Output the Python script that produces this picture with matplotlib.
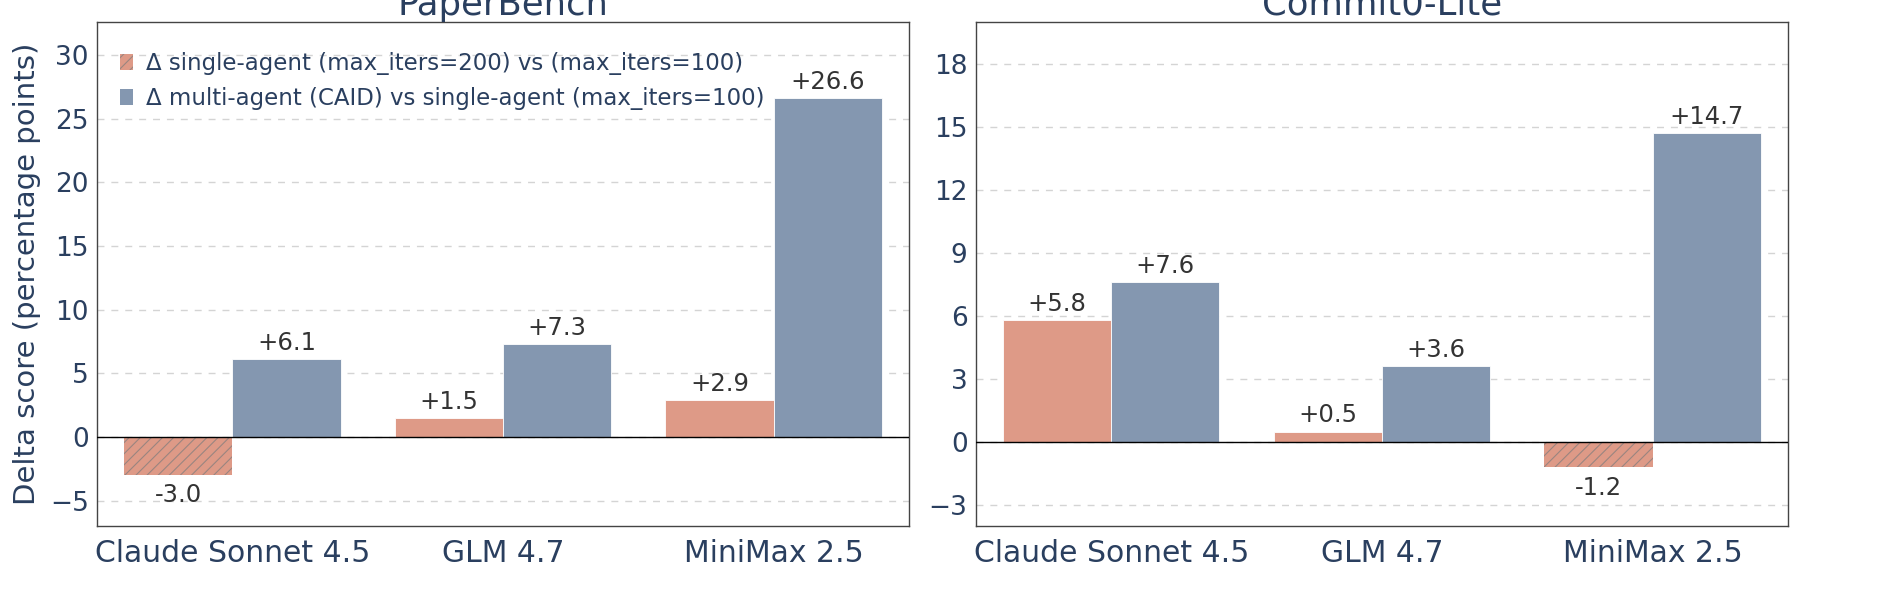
import numpy as np
import matplotlib
matplotlib.use('Agg')
import matplotlib.pyplot as plt
from matplotlib.patches import Patch

models = ['Claude Sonnet 4.5', 'GLM 4.7', 'MiniMax 2.5']

paper_single = [-3.0, 1.5, 2.9]
paper_multi = [6.1, 7.3, 26.6]

commit_single = [5.8, 0.5, -1.2]
commit_multi = [7.6, 3.6, 14.7]

label_single = 'Δ single-agent (max_iters=200) vs (max_iters=100)'
label_multi = 'Δ multi-agent (CAID) vs single-agent (max_iters=100)'

SALMON = '#DE9A87'
BLUE = '#8497B0'
NAVY = '#2A3F5F'
HATCH_GRAY = '#9a8580'

plt.rcParams['font.family'] = 'DejaVu Sans'
plt.rcParams['hatch.linewidth'] = 0.8

fig = plt.figure(figsize=(18.8, 6.04), dpi=100)
ax1 = fig.add_axes([0.0516, 0.1291, 0.4319, 0.8345])
ax2 = fig.add_axes([0.5191, 0.1291, 0.4319, 0.8345])


def draw_panel(ax, single, multi, title, ylim, yticks, show_legend):
    x = np.arange(len(models))
    w = 0.4
    for i in range(len(models)):
        v = single[i]
        if v < 0:
            ax.bar(x[i] - w / 2, v, w, color=SALMON, edgecolor=HATCH_GRAY,
                   linewidth=0, hatch='///', zorder=3)
        else:
            ax.bar(x[i] - w / 2, v, w, color=SALMON, edgecolor='white',
                   linewidth=0.6, zorder=3)
        ax.bar(x[i] + w / 2, multi[i], w, color=BLUE, edgecolor='white',
               linewidth=0.6, zorder=3)

    # value labels above / below each bar
    for i in range(len(models)):
        for xx, v in ((x[i] - w / 2, single[i]), (x[i] + w / 2, multi[i])):
            if v >= 0:
                ax.annotate(f'+{v:.1f}', (xx, v), xytext=(0, 3),
                            textcoords='offset points', ha='center', va='bottom',
                            fontsize=17.5, color='#333333', zorder=5)
            else:
                ax.annotate(f'{v:.1f}', (xx, v), xytext=(0, -6),
                            textcoords='offset points', ha='center', va='top',
                            fontsize=17.5, color='#333333', zorder=5)

    ax.axhline(0, color='black', linewidth=1.0, zorder=4)
    ax.set_xlim(-0.5, 2.5)
    ax.set_ylim(*ylim)
    ax.set_yticks(yticks)
    ax.set_xticks(x)
    ax.set_xticklabels(models)
    ax.yaxis.grid(True, linestyle=(0, (5, 5)), color='#d4d4d4', linewidth=1.0, zorder=0)
    ax.set_axisbelow(True)
    ax.tick_params(axis='both', length=0, colors=NAVY)
    ax.tick_params(axis='x', labelsize=21.5, pad=9)
    ax.tick_params(axis='y', labelsize=19, pad=6)
    for s in ax.spines.values():
        s.set_color('#444444')
        s.set_linewidth(1.0)
    ax.set_title(title, fontsize=25.5, color=NAVY, pad=4)

    if show_legend:
        handles = [Patch(facecolor=SALMON, edgecolor=HATCH_GRAY, linewidth=0, hatch='///'),
                   Patch(facecolor=BLUE, edgecolor='none')]
        leg = ax.legend(handles, [label_single, label_multi], loc='upper left',
                        bbox_to_anchor=(0.0, 0.985), frameon=False, fontsize=16.5,
                        handlelength=0.55, handleheight=0.7, handletextpad=0.6,
                        labelspacing=0.5, borderaxespad=0.6)
        for t in leg.get_texts():
            t.set_color(NAVY)


draw_panel(ax1, paper_single, paper_multi, 'PaperBench', (-7, 32.6),
           [-5, 0, 5, 10, 15, 20, 25, 30], True)
draw_panel(ax2, commit_single, commit_multi, 'Commit0-Lite', (-4, 20),
           [-3, 0, 3, 6, 9, 12, 15, 18], False)

ax1.set_ylabel('Delta score (percentage points)', fontsize=21, color=NAVY, labelpad=6)

fig.savefig('out.png', dpi=100)
